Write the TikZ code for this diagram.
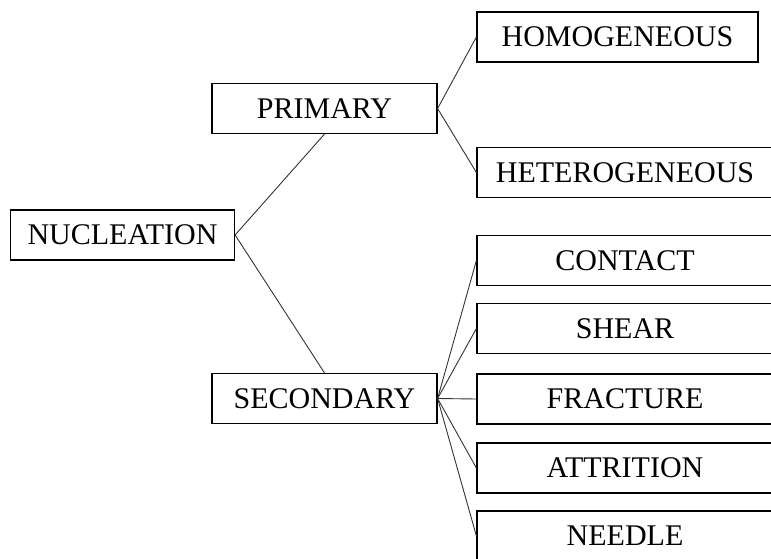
\documentclass[tikz,border=0pt]{standalone}
\usepackage{fontspec}
\setmainfont{Liberation Serif}
\usepackage{tikz}
\usetikzlibrary{positioning}

\begin{document}
\begin{tikzpicture}[x=1pt,y=-1pt,font=\fontsize{30}{36}\selectfont,
    box/.style={draw,line width=1.2pt,inner sep=0pt,minimum height=50pt},
    link/.style={line width=0.9pt,black!80}]
        \clip (0,0) rectangle (771,559);
        % root
        \node[box,minimum width=224pt] (nucl) at (122.5,235) {NUCLEATION};
        % first level
        \node[box,minimum width=225pt] (prim) at (324.5,108.5) {PRIMARY};
        \node[box,minimum width=225pt] (sec) at (324.5,398.5) {SECONDARY};
        % primary types
        \node[box,minimum width=281pt] (homo) at (617.5,37) {HOMOGENEOUS};
        \node[box,minimum width=296pt] (hete) at (625,172.5) {HETEROGENEOUS};
        % secondary types
        \node[box,minimum width=296pt] (cont) at (625,260.5) {CONTACT};
        \node[box,minimum width=296pt] (shear) at (625,328.5) {SHEAR};
        \node[box,minimum width=296pt] (frac) at (625,399) {FRACTURE};
        \node[box,minimum width=296pt] (attr) at (625,468) {ATTRITION};
        \node[box,minimum width=296pt] (need) at (625,536) {NEEDLE};
        % connectors
        \draw[link] (nucl.east) -- (prim.south);
        \draw[link] (nucl.east) -- (sec.north);
        \draw[link] (prim.east) -- (homo.west);
        \draw[link] (prim.east) -- (hete.west);
        \draw[link] (sec.east) -- (cont.west);
        \draw[link] (sec.east) -- (shear.west);
        \draw[link] (sec.east) -- (frac.west);
        \draw[link] (sec.east) -- (attr.west);
        \draw[link] (sec.east) -- (need.west);
      \end{tikzpicture}
\end{document}
